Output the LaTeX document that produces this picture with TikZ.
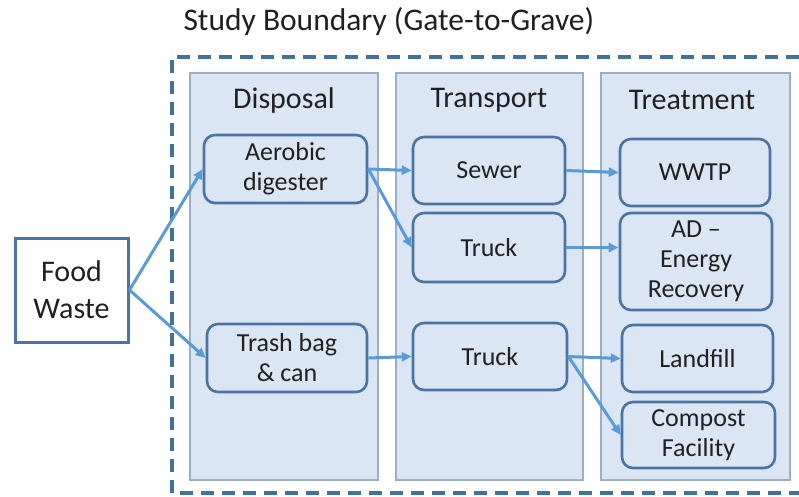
\documentclass[tikz,border=0pt]{standalone}
\usepackage{fontspec}
\setmainfont{Carlito}
\usetikzlibrary{arrows.meta}
\definecolor{paneFill}{HTML}{DAE6F4}
\definecolor{paneLine}{HTML}{98AEC9}
\definecolor{boxLine}{HTML}{4A74A2}
\definecolor{flowBlue}{HTML}{5B9BD5}
\definecolor{dashBlue}{HTML}{41719C}
\definecolor{ink}{HTML}{202020}
\begin{document}
\begin{tikzpicture}[x=1pt, y=-1pt, text=ink,
	pane/.style={fill=paneFill, draw=paneLine, line width=1.4pt},
	stage/.style={font=\fontsize{30}{34}\selectfont},
	proc/.style={draw=boxLine, fill=paneFill, line width=2.6pt, rounded corners=11pt,
		align=center, inner sep=0pt, font=\fontsize{26}{30}\selectfont},
	flow/.style={draw=flowBlue, line width=3pt, -{Triangle[length=10pt,width=9pt]}}]
	\clip (0,0) rectangle (799,496);
	\useasboundingbox (0,0) rectangle (799,496);
	\node[anchor=west, font=\fontsize{31.5}{36}\selectfont] (title) at (180,22) {Study Boundary (Gate-to-Grave)};
	\draw[dashBlue, line width=3.6pt, dash pattern=on 13pt off 8pt] (172,493) -- (172,57) -- (810,57);
	\draw[dashBlue, line width=3.6pt, dash pattern=on 13pt off 8pt] (180,493) -- (810,493);
	% the three stages
	\draw[pane] (190,73) rectangle (378,480);
	\draw[pane] (396,73) rectangle (583,480);
	\draw[pane] (601,73) rectangle (790,480);
	\node[stage] (disp) at (284,100) {Disposal};
	\node[stage] (trans) at (489,100) {Transport};
	\node[stage] (treat) at (692,100) {Treatment};
	% process boxes
	\foreach \n/\x/\y/\w/\h/\t in {
		aer/285.5/169/163/68/{Aerobic\\digester},
		trash/287/358/160/68/{Trash bag\\\& can},
		sewer/489/170.5/152/67/{Sewer},
		truckA/489/247.5/152/69/{Truck},
		truckB/490/356.5/154/67/{Truck},
		wwtp/695/172.5/150/67/{WWTP},
		ad/696/261.5/152/97/{AD --\\Energy\\Recovery},
		landfill/697.5/358.5/151/67/{Landfill},
		compost/698.5/435/153/66/{Compost\\Facility}}
	{
		\node[proc, minimum width=\w pt, minimum height=\h pt] (\n) at (\x,\y) {\t};
	}
	\node[draw=boxLine, fill=white, line width=3pt, minimum width=113pt, minimum height=104pt,
		align=center, inner sep=0pt, font=\fontsize{30}{37}\selectfont] (food) at (71.5,290) {Food\\Waste};
	\foreach \a/\b in {food/aer, food/trash, aer/sewer, aer/truckA, trash/truckB,
		sewer/wwtp, truckB/landfill, truckB/compost}
	{
		\draw[flow] (\a.east) -- (\b.west);
	}
	\draw[flow] (truckA.east) -- (truckA.east -| ad.west);
\end{tikzpicture}
\end{document}
